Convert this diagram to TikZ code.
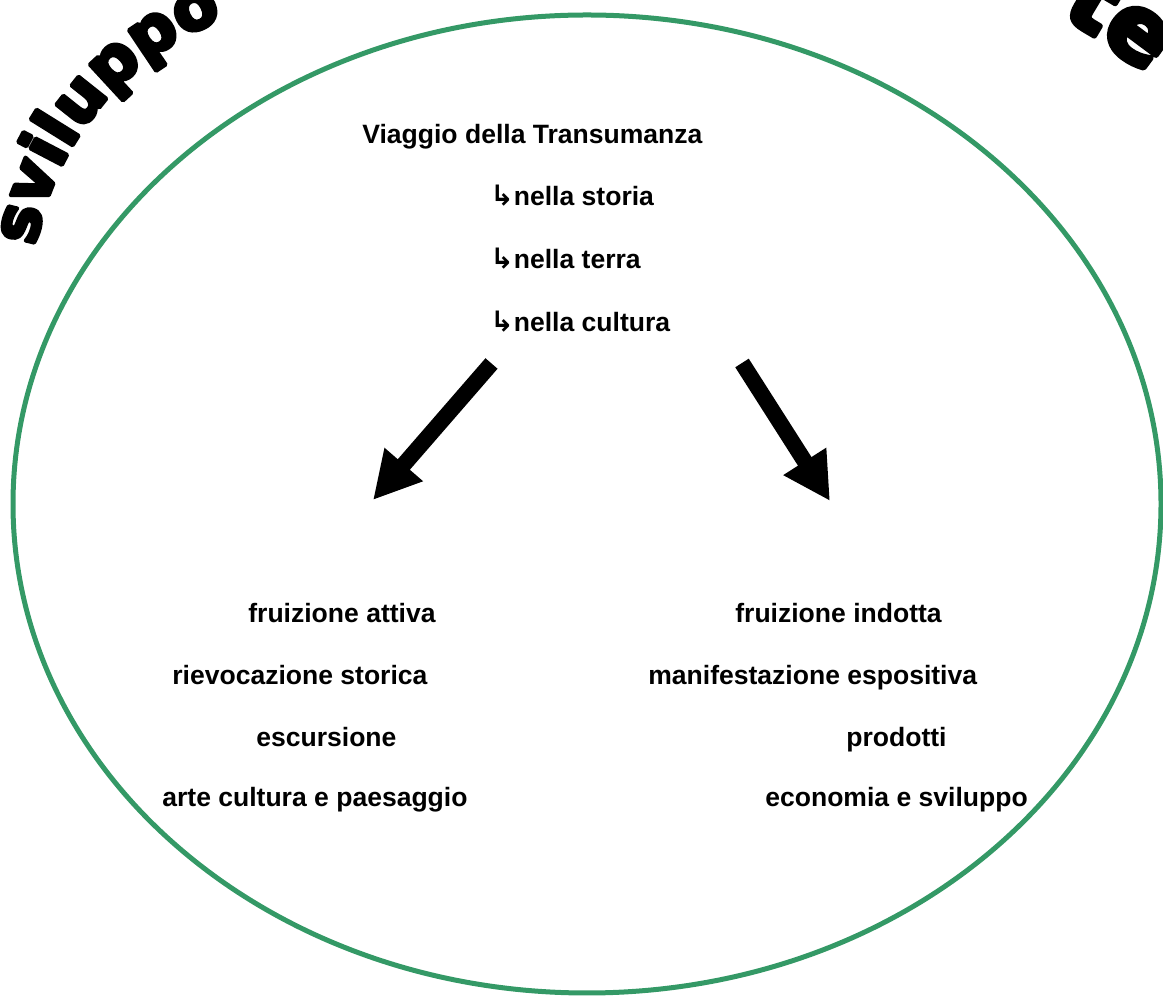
\documentclass[tikz,border=0pt]{standalone}
\usepackage{fontspec}
\setmainfont{Liberation Sans}
\newfontfamily\simboli{DejaVu Sans}
\newfontfamily\arco[FakeBold=6]{DejaVu Sans}
\usetikzlibrary{arrows.meta,decorations.text}
\definecolor{verde}{RGB}{52,153,102}
\begin{document}
\begin{tikzpicture}[x=.02cm, y=.02cm, line join=round,
	testo/.style={anchor=base west, inner sep=0pt, font=\fontsize{15.1pt}{18pt}\selectfont\bfseries},
	freccia/.style={line width=.32cm, -{Triangle[length=.94cm, width=.95cm]}}]
	\useasboundingbox (0,0) rectangle (1163,997);
	\clip (0,0) rectangle (1163,997);
	% scritta ad arco (tagliata dal bordo)
	\path[decorate, decoration={text along path, text align=left,
		text={|\arco\bfseries\fontsize{37pt}{37pt}\selectfont|sviluppo}}] %
		(330.5,698) ++(170:300) arc[start angle=170, end angle=50, radius=300];
	\path[decorate, decoration={text along path, text align=left,
		text={|\arco\bfseries\fontsize{52pt}{52pt}\selectfont|te}}] %
		(809,520) ++(61.5:525) arc[start angle=61.5, end angle=0, radius=525];
	\draw[verde, line width=.1cm] (587,493) ellipse [x radius=574, y radius=489];
	\node[testo] (titolo) at (362,853) {Viaggio della Transumanza};
	\node[testo] (storia) at (490,791) {{\simboli\fontsize{16pt}{18pt}\selectfont ↳}nella storia};
	\node[testo] (terra) at (490,728) {{\simboli\fontsize{16pt}{18pt}\selectfont ↳}nella terra};
	\node[testo] (cultura) at (490,665) {{\simboli\fontsize{16pt}{18pt}\selectfont ↳}nella cultura};
	\coordinate (sx0) at (491.5,633.5);
	\coordinate (sx1) at (373,497);
	\coordinate (dx0) at (742,634);
	\coordinate (dx1) at (830,496);
	\draw[freccia] (sx0)--(sx1);
	\draw[freccia] (dx0)--(dx1);
	\node[testo] (attiva) at (248,374) {fruizione attiva};
	\node[testo] (rievocazione) at (172,312) {rievocazione storica};
	\node[testo] (escursione) at (256,250) {escursione};
	\node[testo] (arte) at (162,190) {arte cultura e paesaggio};
	\node[testo] (indotta) at (735,374) {fruizione indotta};
	\node[testo] (manifestazione) at (648,312) {manifestazione espositiva};
	\node[testo] (prodotti) at (846,250) {prodotti};
	\node[testo] (economia) at (765,190) {economia e sviluppo};
\end{tikzpicture}
\end{document}
